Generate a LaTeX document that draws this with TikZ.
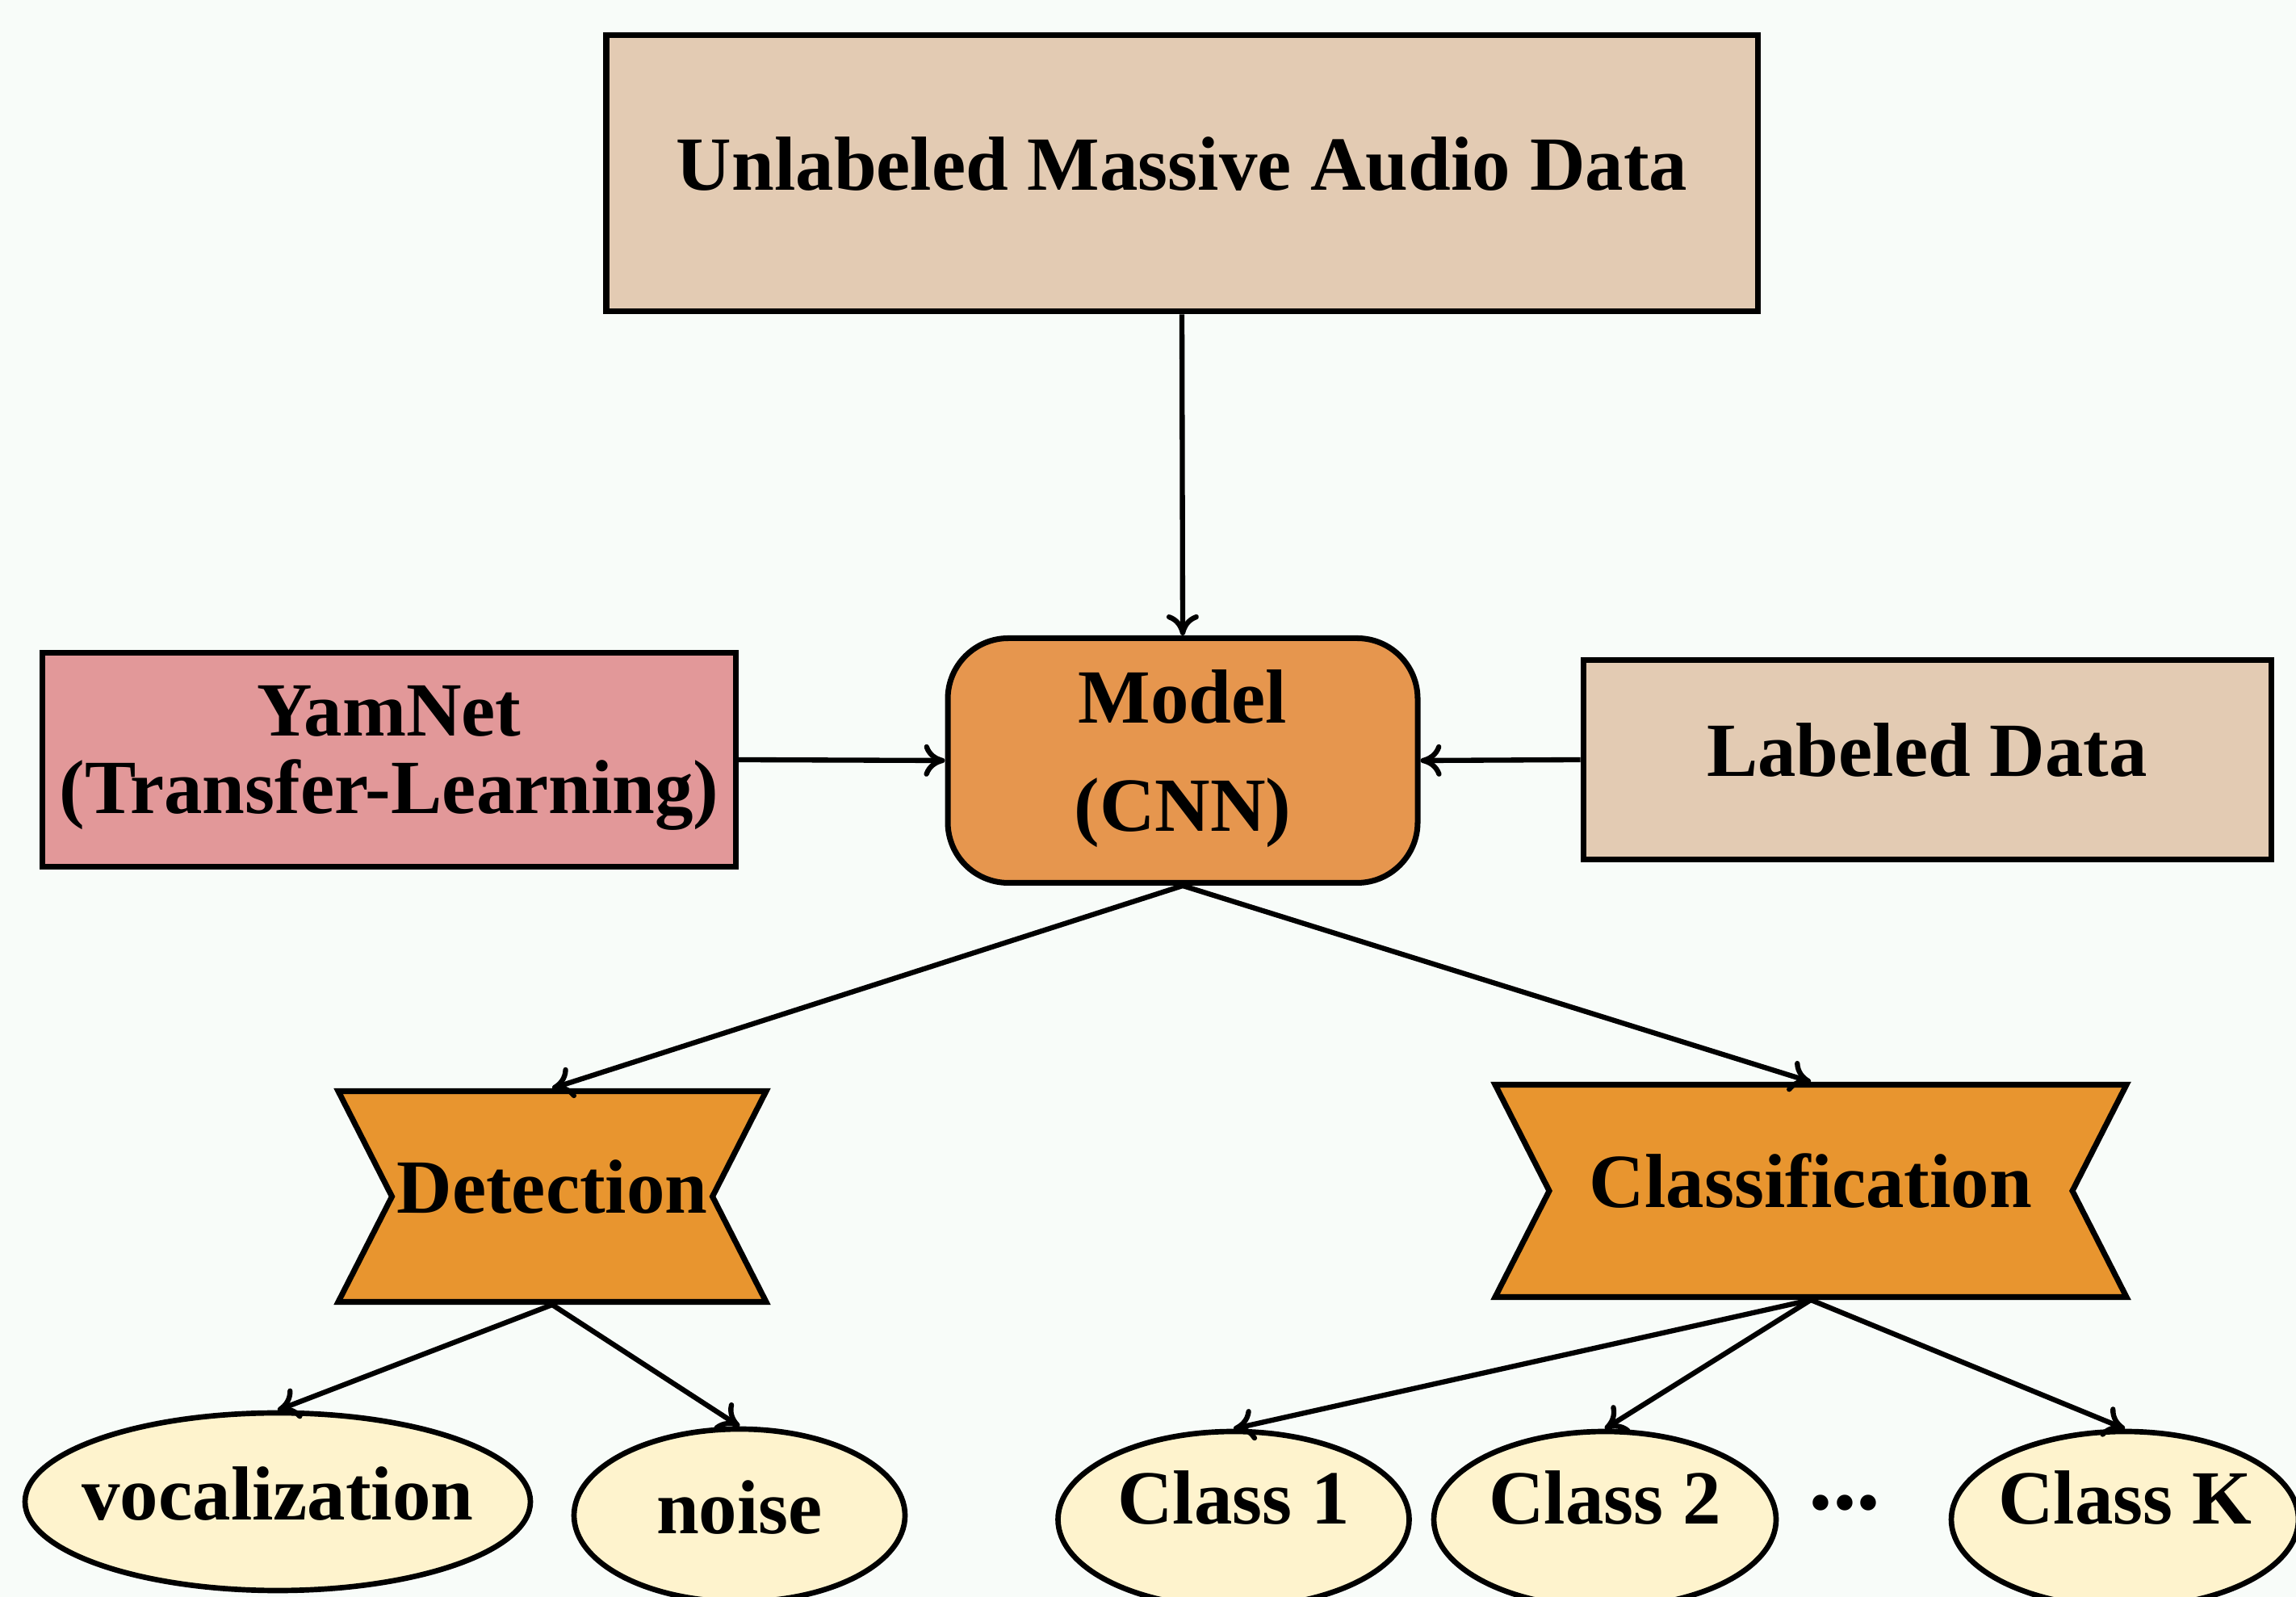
\documentclass[tikz,border=0pt]{standalone}
\usepackage{fontspec}
\setmainfont{Liberation Serif}
\usetikzlibrary{arrows.meta,shapes.geometric,shapes.symbols}

\definecolor{paper}{HTML}{F8FCF9}
\definecolor{sand}{HTML}{E3CBB3}
\definecolor{clay}{HTML}{E6964E}
\definecolor{rose}{HTML}{E29899}
\definecolor{amber}{HTML}{E8952F}
\definecolor{cream}{HTML}{FEF3CD}

\begin{document}
\begin{tikzpicture}[
    font=\fontsize{27}{32}\selectfont\bfseries,
    box/.style={draw, line width=2pt, inner sep=0pt, align=center, text depth=0.25cm},
    flow/.style={line width=1.8pt, -{To[length=2.6mm,width=4mm]}},
    leaf/.style={box, ellipse, fill=cream, line width=1.9pt, inner sep=-0.6cm, text depth=0.2cm},
    classleaf/.style={leaf, text depth=0.55cm},
    task/.style={box, signal, signal from=west and east, signal to=nowhere,
                 signal pointer angle=126, fill=amber}
  ]
    % Canvas:
    \fill[paper] (0, 0) rectangle (28.44, 19.78);
    \useasboundingbox (0, 0) rectangle (28.44, 19.78);

    % Inputs and model:
    \node[box, fill=sand, minimum width=14.26cm, minimum height=3.42cm] (unlab) at (14.64, 17.63) {Unlabeled Massive Audio Data};
    \node[box, fill=clay, rounded corners=0.75cm, minimum width=5.82cm, minimum height=3.03cm,
          font=\fontsize{27}{38}\selectfont\bfseries] (model) at (14.65, 10.36) {Model\\(CNN)};
    \node[box, fill=rose, minimum width=8.59cm, minimum height=2.65cm,
          font=\fontsize{27}{27.5}\selectfont\bfseries] (yamnet) at (4.82, 10.37) {YamNet\\(Transfer-Learning)};
    \node[box, fill=sand, minimum width=8.52cm, minimum height=2.47cm] (labeled) at (23.87, 10.37) {Labeled Data};

    % Tasks:
    \node[task, minimum width=5.30cm, minimum height=2.61cm] (detect) at (6.84, 4.96) {Detection};
    \node[task, minimum width=7.82cm, minimum height=2.63cm] (classify) at (22.43, 5.03) {Classification};

    % Outputs:
    \node[leaf, minimum width=6.26cm, minimum height=2.20cm] (voc) at (3.44, 1.18) {vocalization};
    \node[leaf, minimum width=4.10cm, minimum height=2.14cm] (noise) at (9.16, 1.01) {noise};
    \node[classleaf, minimum width=4.35cm, minimum height=2.18cm] (cls1) at (15.28, 0.96) {Class 1};
    \node[classleaf, minimum width=4.24cm, minimum height=2.18cm] (cls2) at (19.88, 0.96) {Class 2};
    \node[font=\fontsize{34}{34}\selectfont\bfseries] (dots) at (22.85, 1.16) {...};
    \node[classleaf, minimum width=4.30cm, minimum height=2.18cm] (clsk) at (26.32, 0.96) {Class K};

    % Connectors:
    \draw[flow] (unlab.south) -- (model.north);
    \draw[flow] (yamnet.east) -- (model.west);
    \draw[flow] (labeled.west) -- (model.east);
    \draw[flow] (model.south) -- (detect.north);
    \draw[flow] (model.south) -- (classify.north);
    \draw[flow] (detect.south) -- (voc.north);
    \draw[flow] (detect.south) -- (noise.north);
    \draw[flow] (classify.south) -- (cls1.north);
    \draw[flow] (classify.south) -- (cls2.north);
    \draw[flow] (classify.south) -- (clsk.north);
\end{tikzpicture}
\end{document}
